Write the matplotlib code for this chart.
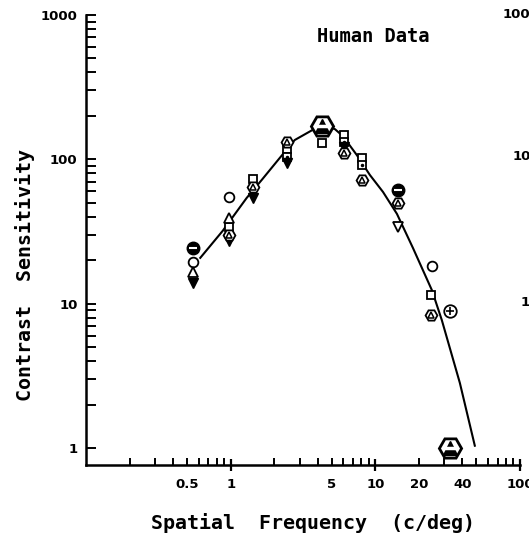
import numpy as np
import matplotlib
matplotlib.use("Agg")
import matplotlib.pyplot as plt
from matplotlib.ticker import FixedLocator, FuncFormatter, NullFormatter

# fitted curve
curve_f = [0.61, 0.88, 1.29, 1.64, 2.18, 2.77, 3.69, 4.26, 5.25, 5.96, 7.45, 9.16,
           11.3, 14.1, 18.2, 24.6, 28.8, 38.4, 48.9]
curve_cs = [20.5, 31.9, 54, 72, 102, 136, 160, 173, 162, 145, 107, 78,
            59.4, 41.9, 24.3, 12.4, 7.7, 2.82, 1.02]

# observers (one symbol each)
circ_f = [0.546, 0.97, 24.6]
circ_cs = [19.4, 55, 18.3]
sq_f = [0.97, 1.42, 2.44, 4.26, 6.05, 8.06, 24.2]
sq_cs = [34, 73, 118, 130, 147, 102, 11.5]
sqdot_f = [2.44, 6.05, 8.06]
sqdot_cs = [104, 132, 92]
tri_f = [0.546, 0.97]
tri_cs = [16.6, 39]
tridn_f = [0.546, 0.97, 1.42, 2.44, 6.05]
tridn_cs = [13.9, 27, 54, 95, 121]
tridn_open_f = [14.3]
tridn_open_cs = [34]
hex_f = [0.97, 1.42, 2.44, 6.05, 8.06, 14.3, 24.2]
hex_cs = [30, 64, 132, 110, 72, 50, 8.4]
hexbig_f = [4.26, 33]
hexbig_cs = [170, 1.0]
dark_f = [0.546, 14.3]
dark_cs = [24.3, 61]
cross_f = [33]
cross_cs = [8.9]

xlabels_at = [0.5, 1, 5, 10, 20, 40, 100]

mono = "DejaVu Sans Mono"

fig = plt.figure(figsize=(5.29, 5.38), dpi=100)
ax = fig.add_axes([86 / 529, 73 / 538, 434 / 529, 450 / 538])
ax.set_xscale("log")
ax.set_yscale("log")
ax.set_xlim(0.1, 100)
ax.set_ylim(0.762, 1000)

ax.plot(curve_f, curve_cs, color="black", lw=1.5, zorder=1, solid_capstyle="butt")

mk = dict(linestyle="none", color="black", mfc="white", mec="black", mew=1.3, zorder=3)
ax.plot(circ_f, circ_cs, marker="o", ms=7, **mk)
ax.plot(sq_f, sq_cs, marker="s", ms=5.5, **mk)
ax.plot(sqdot_f, sqdot_cs, marker="s", ms=5.5, **mk)
ax.plot(sqdot_f, sqdot_cs, marker=".", ms=3, linestyle="none", color="black", zorder=4)
ax.plot(tri_f, tri_cs, marker="^", ms=7, **mk)
ax.plot(tridn_f, tridn_cs, marker="v", ms=7, linestyle="none", color="black", zorder=3)
ax.plot(tridn_open_f, tridn_open_cs, marker="v", ms=7, **mk)
ax.plot(hex_f, hex_cs, marker="H", ms=8.5, **mk)
ax.plot(hex_f, hex_cs, marker="^", ms=4.5, linestyle="none", color="black", mfc="white",
        mew=1.1, zorder=4)
ax.plot(hexbig_f, hexbig_cs, marker="H", ms=16, linestyle="none", mfc="white",
        mec="black", mew=2.0, zorder=3)
ax.plot(hexbig_f, hexbig_cs, marker="^", ms=10, linestyle="none", mfc="black",
        mec="black", mew=1.0, zorder=4)
ax.plot(hexbig_f, hexbig_cs, marker="_", ms=9, linestyle="none", color="white",
        mew=2.5, zorder=5)
ax.plot(dark_f, dark_cs, marker="o", ms=9, linestyle="none", mfc="black", mec="black", zorder=3)
ax.plot(dark_f, dark_cs, marker="_", ms=6, linestyle="none", color="white", mew=1.5, zorder=4)
ax.plot(cross_f, cross_cs, marker="o", ms=9, **mk)
ax.plot(cross_f, cross_cs, marker="+", ms=6, linestyle="none", color="black", mew=1.2, zorder=4)

for s in ["top", "right"]:
    ax.spines[s].set_visible(False)
for s in ["left", "bottom"]:
    ax.spines[s].set_linewidth(1.8)

# x ticks
ax.xaxis.set_major_locator(FixedLocator([1, 10, 100]))
minor = [m * 10.0 ** e for e in (-1, 0, 1) for m in range(2, 10)]
ax.xaxis.set_minor_locator(FixedLocator(minor))
ax.xaxis.set_major_formatter(FuncFormatter(lambda v, p: "%g" % v))
ax.xaxis.set_minor_formatter(FuncFormatter(
    lambda v, p: ("%g" % v) if any(abs(v - t) < 1e-6 for t in xlabels_at) else ""))
ax.tick_params(axis="x", which="major", direction="inout", length=9, width=1.6, pad=5)
ax.tick_params(axis="x", which="minor", direction="in", length=5, width=1.4, pad=9.4)

# y ticks
ax.yaxis.set_major_locator(FixedLocator([1, 10, 100, 1000]))
ax.yaxis.set_minor_locator(FixedLocator([m * 10.0 ** e for e in (0, 1, 2) for m in range(2, 10)]))
ax.yaxis.set_major_formatter(FuncFormatter(lambda v, p: "%g" % v))
ax.yaxis.set_minor_formatter(NullFormatter())
ax.tick_params(axis="y", which="both", direction="in", length=7, width=1.4, pad=6)

for lab in ax.get_xticklabels(which="both") + ax.get_yticklabels():
    lab.set_fontfamily("DejaVu Sans")
    lab.set_fontweight("bold")
    lab.set_fontsize(9.5)

fig.text(313 / 529, 1 - 523 / 538, "Spatial  Frequency  (c/deg)", family=mono,
         fontweight="bold", fontsize=14.4, ha="center", va="center")
fig.text(25 / 529, 1 - 275 / 538, "Contrast  Sensitivity", family=mono,
         fontweight="bold", fontsize=14.4, ha="center", va="center", rotation=90)
fig.text(373 / 529, 1 - 37 / 538, "Human Data", family=mono, fontweight="bold",
         fontsize=13.5, ha="center", va="center")

# tick labels of the neighbouring panel, cut by the page edge as in the source
fig.text(503 / 529, 1 - 15 / 538, "1000", fontweight="bold", fontsize=9.5, ha="left", va="center")
fig.text(513 / 529, 1 - 156 / 538, "100", fontweight="bold", fontsize=9.5, ha="left", va="center")
fig.text(521 / 529, 1 - 303 / 538, "10", fontweight="bold", fontsize=9.5, ha="left", va="center")

fig.savefig("out.png", dpi=100)
